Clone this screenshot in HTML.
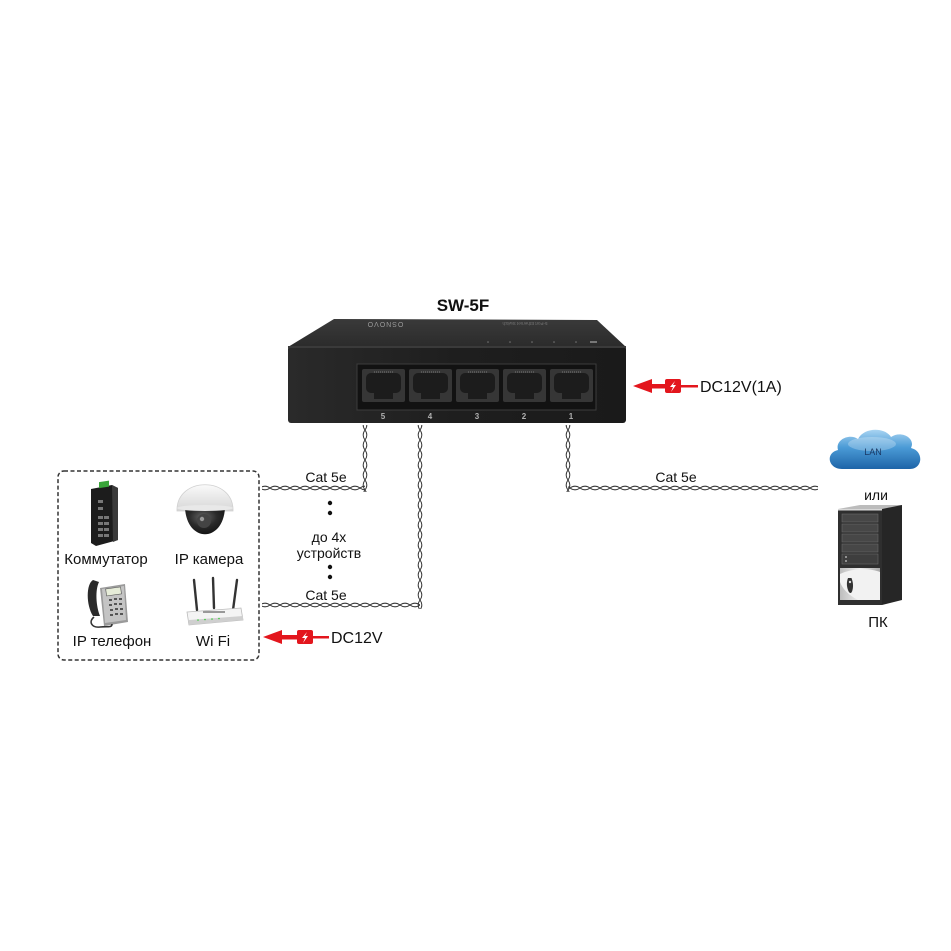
<!DOCTYPE html>
<html><head><meta charset="utf-8"><style>
html,body{margin:0;padding:0;background:#fff;}
svg{display:block;}
text{font-family:"Liberation Sans","Noto Sans CJK SC",sans-serif;}
</style></head><body>
<svg width="951" height="951" viewBox="0 0 951 951" xmlns="http://www.w3.org/2000/svg">
<defs>
<pattern id="hA" patternUnits="userSpaceOnUse" x="0" y="484" width="20" height="8">
<path d="M0,4 C3.3,1.6 6.7,1.6 10,4 C13.3,6.4 16.7,6.4 20,4" fill="none" stroke="#3a3a3a" stroke-width="1"/>
<path d="M0,4 C3.3,6.4 6.7,6.4 10,4 C13.3,1.6 16.7,1.6 20,4" fill="none" stroke="#3a3a3a" stroke-width="1"/>
</pattern>
<pattern id="hB" patternUnits="userSpaceOnUse" x="0" y="601" width="20" height="8">
<path d="M0,4 C3.3,1.6 6.7,1.6 10,4 C13.3,6.4 16.7,6.4 20,4" fill="none" stroke="#3a3a3a" stroke-width="1"/>
<path d="M0,4 C3.3,6.4 6.7,6.4 10,4 C13.3,1.6 16.7,1.6 20,4" fill="none" stroke="#3a3a3a" stroke-width="1"/>
</pattern>
<pattern id="vA" patternUnits="userSpaceOnUse" x="361" y="0" width="8" height="20">
<path d="M4,0 C1.6,3.3 1.6,6.7 4,10 C6.4,13.3 6.4,16.7 4,20" fill="none" stroke="#3a3a3a" stroke-width="1"/>
<path d="M4,0 C6.4,3.3 6.4,6.7 4,10 C1.6,13.3 1.6,16.7 4,20" fill="none" stroke="#3a3a3a" stroke-width="1"/>
</pattern>
<pattern id="vB" patternUnits="userSpaceOnUse" x="416" y="0" width="8" height="20">
<path d="M4,0 C1.6,3.3 1.6,6.7 4,10 C6.4,13.3 6.4,16.7 4,20" fill="none" stroke="#3a3a3a" stroke-width="1"/>
<path d="M4,0 C6.4,3.3 6.4,6.7 4,10 C1.6,13.3 1.6,16.7 4,20" fill="none" stroke="#3a3a3a" stroke-width="1"/>
</pattern>
<pattern id="vC" patternUnits="userSpaceOnUse" x="564" y="0" width="8" height="20">
<path d="M4,0 C1.6,3.3 1.6,6.7 4,10 C6.4,13.3 6.4,16.7 4,20" fill="none" stroke="#3a3a3a" stroke-width="1"/>
<path d="M4,0 C6.4,3.3 6.4,6.7 4,10 C1.6,13.3 1.6,16.7 4,20" fill="none" stroke="#3a3a3a" stroke-width="1"/>
</pattern>
<linearGradient id="front" x1="0" y1="0" x2="1" y2="0">
<stop offset="0" stop-color="#2a2a2a"/><stop offset="0.5" stop-color="#1e1e1e"/><stop offset="1" stop-color="#1a1a1a"/>
</linearGradient>
<linearGradient id="top" x1="0" y1="0" x2="0" y2="1">
<stop offset="0" stop-color="#3a3a3a"/><stop offset="1" stop-color="#2b2b2b"/>
</linearGradient>
<linearGradient id="cloud" x1="0" y1="0" x2="0" y2="1">
<stop offset="0" stop-color="#a9d4f2"/><stop offset="0.45" stop-color="#4b9bd6"/><stop offset="1" stop-color="#1d64a8"/>
</linearGradient>
<linearGradient id="dome" x1="0" y1="0" x2="0" y2="1">
<stop offset="0" stop-color="#fafafa"/><stop offset="1" stop-color="#d6d6d6"/>
</linearGradient>
<radialGradient id="lens" cx="0.45" cy="0.35" r="0.7">
<stop offset="0" stop-color="#666"/><stop offset="0.5" stop-color="#2a2a2a"/><stop offset="1" stop-color="#111"/>
</radialGradient>
<linearGradient id="silver" x1="0" y1="0" x2="1" y2="0">
<stop offset="0" stop-color="#bdbdbd"/><stop offset="0.5" stop-color="#eeeeee"/><stop offset="1" stop-color="#a8a8a8"/>
</linearGradient>
</defs>

<!-- Title -->
<text x="463" y="311" font-size="17" font-weight="bold" text-anchor="middle" fill="#111">SW-5F</text>

<!-- Switch body -->
<path d="M334,319 L597,320 L626,347 L288,347 Z" fill="url(#top)"/>
<text x="385" y="326" font-size="7" fill="#9a9a9a" text-anchor="middle" transform="rotate(180 385 324)" font-family="Liberation Serif" letter-spacing="1">OSNOVO</text>
<text x="525" y="326" font-size="4.5" fill="#777" text-anchor="middle" transform="rotate(180 525 324)">5-Port Ethernet Switch</text>
<g fill="#777"><circle cx="488" cy="342" r="0.8"/><circle cx="510" cy="342" r="0.8"/><circle cx="532" cy="342" r="0.8"/><circle cx="554" cy="342" r="0.8"/><circle cx="576" cy="342" r="0.8"/><rect x="590" y="341" width="7" height="2"/></g>
<rect x="288" y="346" width="338" height="77" rx="3" fill="url(#front)"/>
<rect x="288" y="346" width="338" height="2" fill="#3a3a3a"/>
<!-- port recess -->
<rect x="357" y="364" width="239" height="46" fill="#121212" stroke="#3c3c3c" stroke-width="1"/>
<g>
<g transform="translate(362,369)">
<rect width="43" height="33" rx="2" fill="#363636"/>
<rect x="4" y="4" width="35" height="20" rx="5" fill="#1c1c1c"/>
<rect x="12" y="22" width="19" height="8" fill="#1c1c1c"/>
<line x1="12" y1="3" x2="31" y2="3" stroke="#777" stroke-width="1" stroke-dasharray="1 1"/>
</g>
<g transform="translate(409,369)">
<rect width="43" height="33" rx="2" fill="#363636"/>
<rect x="4" y="4" width="35" height="20" rx="5" fill="#1c1c1c"/>
<rect x="12" y="22" width="19" height="8" fill="#1c1c1c"/>
<line x1="12" y1="3" x2="31" y2="3" stroke="#777" stroke-width="1" stroke-dasharray="1 1"/>
</g>
<g transform="translate(456,369)">
<rect width="43" height="33" rx="2" fill="#363636"/>
<rect x="4" y="4" width="35" height="20" rx="5" fill="#1c1c1c"/>
<rect x="12" y="22" width="19" height="8" fill="#1c1c1c"/>
<line x1="12" y1="3" x2="31" y2="3" stroke="#777" stroke-width="1" stroke-dasharray="1 1"/>
</g>
<g transform="translate(503,369)">
<rect width="43" height="33" rx="2" fill="#363636"/>
<rect x="4" y="4" width="35" height="20" rx="5" fill="#1c1c1c"/>
<rect x="12" y="22" width="19" height="8" fill="#1c1c1c"/>
<line x1="12" y1="3" x2="31" y2="3" stroke="#777" stroke-width="1" stroke-dasharray="1 1"/>
</g>
<g transform="translate(550,369)">
<rect width="43" height="33" rx="2" fill="#363636"/>
<rect x="4" y="4" width="35" height="20" rx="5" fill="#1c1c1c"/>
<rect x="12" y="22" width="19" height="8" fill="#1c1c1c"/>
<line x1="12" y1="3" x2="31" y2="3" stroke="#777" stroke-width="1" stroke-dasharray="1 1"/>
</g>
</g>
<g font-size="8" font-weight="bold" fill="#b0b0b0" text-anchor="middle">
<text x="383" y="419">5</text><text x="430" y="419">4</text><text x="477" y="419">3</text><text x="524" y="419">2</text><text x="571" y="419">1</text>
</g>

<!-- Cables -->
<rect x="361" y="425" width="8" height="67" fill="url(#vA)"/>
<rect x="262" y="484" width="103" height="8" fill="url(#hA)"/>
<rect x="416" y="425" width="8" height="184" fill="url(#vB)"/>
<rect x="262" y="601" width="158" height="8" fill="url(#hB)"/>
<rect x="564" y="425" width="8" height="67" fill="url(#vC)"/>
<rect x="568" y="484" width="250" height="8" fill="url(#hA)"/>

<g font-size="14" fill="#111" text-anchor="middle">
<text x="326" y="482">Cat 5e</text>
<text x="326" y="600">Cat 5e</text>
<text x="676" y="482">Cat 5e</text>
<text x="329" y="542">до 4х</text>
<text x="329" y="558">устройств</text>
</g>
<g fill="#111"><circle cx="330" cy="503" r="2.2"/><circle cx="330" cy="513" r="2.2"/><circle cx="330" cy="567" r="2.2"/><circle cx="330" cy="577" r="2.2"/></g>

<!-- Dashed box -->
<rect x="58" y="471" width="201" height="189" rx="6" fill="none" stroke="#333" stroke-width="1.5" stroke-dasharray="4 2.5"/>

<!-- Industrial switch -->
<path d="M91,489 L112,485 L118,488 L118,540 L96,546 L91,543 Z" fill="#1c1c1c"/>
<path d="M112,485 L118,488 L118,540 L113,542 Z" fill="#3a3a3a"/>
<rect x="99" y="482" width="10" height="6" fill="#3aa53a" transform="skewY(-8) translate(0,14)"/>
<g fill="#777">
<rect x="98" y="500" width="5" height="3"/><rect x="98" y="507" width="5" height="3"/>
<rect x="98" y="516" width="5" height="3"/><rect x="104" y="516" width="5" height="3"/>
<rect x="98" y="522" width="5" height="3"/><rect x="104" y="522" width="5" height="3"/>
<rect x="98" y="528" width="5" height="3"/><rect x="104" y="528" width="5" height="3"/>
<rect x="98" y="534" width="5" height="3"/><rect x="104" y="534" width="5" height="3"/>
</g>

<!-- Dome camera -->
<path d="M177,511 C176,476 234,476 233,511 Z" fill="url(#dome)" stroke="#d0d0d0" stroke-width="0.8"/>
<path d="M185,508 C187,543 223,543 225,508 Z" fill="url(#lens)"/>
<ellipse cx="205" cy="508" rx="28" ry="3" fill="#e8e8e8"/>
<circle cx="204" cy="521" r="7" fill="#444"/>
<circle cx="202" cy="519" r="2.2" fill="#999"/>

<!-- IP phone -->
<path d="M100,588 L125,584 L128,622 L104,626 Z" fill="#9a9a9a"/>
<path d="M102,589 L124,586 L126,620 L105,623 Z" fill="#c4c4c4"/>
<rect x="106" y="588" width="15" height="7" fill="#e6ecd8" stroke="#555" stroke-width="0.6" transform="rotate(-8 113 591)"/>
<g fill="#555">
<rect x="109" y="599" width="3" height="2"/><rect x="114" y="598" width="3" height="2"/><rect x="119" y="598" width="3" height="2"/>
<rect x="109" y="604" width="3" height="2"/><rect x="114" y="603" width="3" height="2"/><rect x="119" y="603" width="3" height="2"/>
<rect x="110" y="609" width="3" height="2"/><rect x="115" y="608" width="3" height="2"/><rect x="120" y="608" width="3" height="2"/>
<rect x="110" y="614" width="3" height="2"/><rect x="115" y="613" width="3" height="2"/><rect x="120" y="613" width="3" height="2"/>
</g>
<path d="M93,580 C86,584 86,605 93,616 L100,616 C96,606 95,590 99,582 Z" fill="#2a2a2a"/>
<path d="M94,617 C88,622 92,628 100,627 C108,626 112,628 112,624" fill="none" stroke="#333" stroke-width="1.6"/>

<!-- WiFi router -->
<g stroke="#333" stroke-width="2.4" stroke-linecap="round">
<line x1="194" y1="580" x2="197" y2="610"/>
<line x1="213" y1="578" x2="214" y2="608"/>
<line x1="237" y1="580" x2="233" y2="610"/>
</g>
<path d="M187,612 L241,608 L243,620 L189,625 Z" fill="#f4f4f4" stroke="#bbb" stroke-width="0.8"/>
<path d="M189,620 L243,616 L243,620 L189,625 Z" fill="#cfcfcf"/>
<rect x="203" y="611" width="22" height="2" fill="#999"/>
<g fill="#3c3"><circle cx="198" cy="620" r="0.8"/><circle cx="205" cy="619.5" r="0.8"/><circle cx="212" cy="619" r="0.8"/><circle cx="219" cy="618.5" r="0.8"/></g>

<!-- Device labels -->
<g font-size="15" fill="#111" text-anchor="middle">
<text x="106" y="564">Коммутатор</text>
<text x="209" y="564">IP камера</text>
<text x="112" y="646">IP телефон</text>
<text x="213" y="646">Wi Fi</text>
</g>

<!-- Power arrow (switch) -->
<g>
<polygon points="633,386 652,379 652,393" fill="#e3161d"/>
<rect x="650" y="384" width="16" height="4.5" fill="#e3161d"/>
<rect x="665" y="379" width="16" height="14" rx="2" fill="#e3161d"/>
<path d="M675,381 L670,387 L673,387 L671,392 L676,385 L673,385 Z" fill="#fff"/>
<rect x="681" y="385" width="17" height="2.5" fill="#e3161d"/>
<text x="700" y="392" font-size="16" fill="#111">DC12V(1A)</text>
</g>

<!-- Power arrow (devices) -->
<g>
<polygon points="263,637 282,630 282,644" fill="#e3161d"/>
<rect x="280" y="635" width="18" height="4.5" fill="#e3161d"/>
<rect x="297" y="630" width="16" height="14" rx="2" fill="#e3161d"/>
<path d="M307,632 L302,638 L305,638 L303,643 L308,636 L305,636 Z" fill="#fff"/>
<rect x="313" y="636" width="16" height="2.5" fill="#e3161d"/>
<text x="331" y="643" font-size="16" fill="#111">DC12V</text>
</g>

<!-- LAN cloud -->
<path d="M842,469 C828,469 825,453 838,450 C835,440 849,433 858,439 C864,427 885,427 891,437 C901,430 916,438 911,448 C924,451 923,469 910,469 Z" fill="url(#cloud)"/>
<ellipse cx="872" cy="444" rx="24" ry="7" fill="#ffffff" opacity="0.25"/>
<text x="873" y="455" font-size="9" fill="#1b3a66" text-anchor="middle">LAN</text>
<text x="876" y="500" font-size="14" fill="#111" text-anchor="middle">или</text>

<!-- PC tower -->
<path d="M860,505 L902,505 L902,600 L882,605 L882,510 Z" fill="#262626"/>
<path d="M838,509 L882,509 L882,605 L838,605 Z" fill="#2f2f2f"/>
<path d="M838,509 L860,505 L902,505 L882,509 Z" fill="#bcbcbc"/>
<rect x="838" y="509" width="44" height="1.5" fill="#d8d8d8"/>
<g fill="#474747" stroke="#6a6a6a" stroke-width="0.6">
<rect x="842" y="514" width="36" height="8"/>
<rect x="842" y="524" width="36" height="8"/>
<rect x="842" y="534" width="36" height="8"/>
<rect x="842" y="544" width="36" height="8"/>
</g>
<rect x="842" y="554" width="36" height="10" fill="#3e3e3e" stroke="#6a6a6a" stroke-width="0.6"/>
<circle cx="846" cy="557" r="0.9" fill="#ccc"/><circle cx="846" cy="561" r="0.9" fill="#ccc"/>
<path d="M840,568 L880,568 L880,600 L840,600 Z" fill="url(#silver)"/>
<path d="M840,574 C852,568 870,568 880,572 L880,600 L858,600 C848,595 842,588 840,582 Z" fill="#f2f2f2"/>
<path d="M848,578 C846.5,582 846.5,586 848,590 C849.5,594 851.5,594 852.5,590 C853.5,586 853,582 851.5,578 Z" fill="#333"/>
<circle cx="850" cy="582" r="1.2" fill="#ddd"/>
<text x="878" y="627" font-size="15" fill="#111" text-anchor="middle">ПК</text>
</svg>
</body></html>
